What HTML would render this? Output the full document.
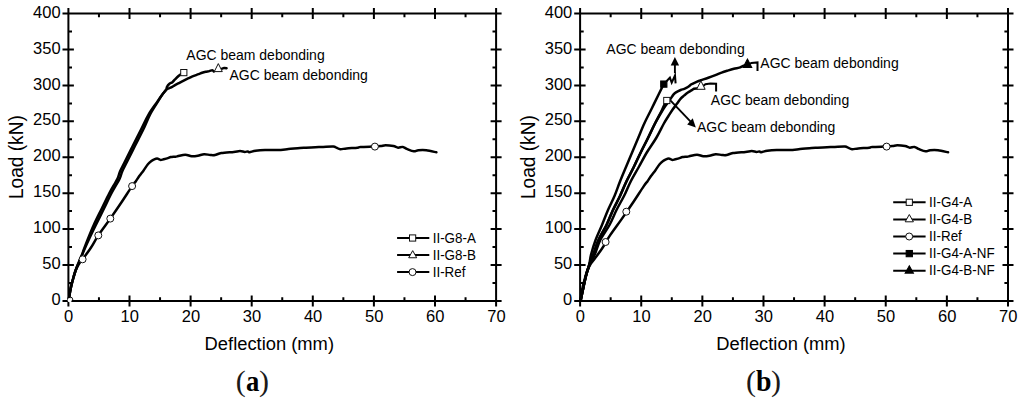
<!DOCTYPE html>
<html><head><meta charset="utf-8"><style>
html,body{margin:0;padding:0;background:#fff;}
svg{display:block;}
text{font-family:"Liberation Sans",sans-serif;fill:#000;}
.tk{font-size:16.5px;}
.ttl{font-size:18.7px;}
.ttl2{font-size:19.1px;}
.pr{font-family:"Liberation Serif",serif;font-size:30px;fill:#1a1a1a;}
.cb{font-family:"Liberation Serif",serif;font-weight:bold;font-size:29px;}
.an{font-size:14px;}
.lt{font-size:13.4px;}
.cap{font-family:"Liberation Serif",serif;font-weight:bold;font-size:28px;}
.ax{fill:none;stroke:#000;stroke-width:2;}
.cv{fill:none;stroke:#000;stroke-width:2.5;stroke-linejoin:round;stroke-linecap:round;}
.cv2{fill:none;stroke:#000;stroke-width:2;stroke-linejoin:miter;}
.lg{fill:none;stroke:#000;stroke-width:2;}
.mk{fill:#fff;stroke:#111;stroke-width:1.0;}
.mkf{fill:#000;stroke:#000;stroke-width:1.1;}
.ar{fill:none;stroke:#000;stroke-width:1.9;}
.ah{fill:#000;stroke:none;}
</style></head><body>
<svg width="1024" height="406" viewBox="0 0 1024 406">
<rect width="1024" height="406" fill="#fff"/>
<g>
<path d="M68.40,13.60H496.10V300.90H68.40ZM68.40,306.40V295.40M68.40,8.10V19.10M98.95,300.90V297.30M98.95,13.60V17.20M129.50,306.40V295.40M129.50,8.10V19.10M160.05,300.90V297.30M160.05,13.60V17.20M190.60,306.40V295.40M190.60,8.10V19.10M221.15,300.90V297.30M221.15,13.60V17.20M251.70,306.40V295.40M251.70,8.10V19.10M282.25,300.90V297.30M282.25,13.60V17.20M312.80,306.40V295.40M312.80,8.10V19.10M343.35,300.90V297.30M343.35,13.60V17.20M373.90,306.40V295.40M373.90,8.10V19.10M404.45,300.90V297.30M404.45,13.60V17.20M435.00,306.40V295.40M435.00,8.10V19.10M465.55,300.90V297.30M465.55,13.60V17.20M496.10,306.40V295.40M496.10,8.10V19.10M62.50,300.90H73.90M490.60,300.90H501.60M68.40,282.94H72.00M496.10,282.94H492.50M62.50,264.99H73.90M490.60,264.99H501.60M68.40,247.03H72.00M496.10,247.03H492.50M62.50,229.07H73.90M490.60,229.07H501.60M68.40,211.12H72.00M496.10,211.12H492.50M62.50,193.16H73.90M490.60,193.16H501.60M68.40,175.21H72.00M496.10,175.21H492.50M62.50,157.25H73.90M490.60,157.25H501.60M68.40,139.29H72.00M496.10,139.29H492.50M62.50,121.34H73.90M490.60,121.34H501.60M68.40,103.38H72.00M496.10,103.38H492.50M62.50,85.43H73.90M490.60,85.43H501.60M68.40,67.47H72.00M496.10,67.47H492.50M62.50,49.51H73.90M490.60,49.51H501.60M68.40,31.56H72.00M496.10,31.56H492.50M62.50,13.60H73.90M490.60,13.60H501.60" class="ax"/>
<path d="M68.70,300.50 C68.92,299.08 69.50,294.75 70.00,292.00 C70.50,289.25 71.10,286.50 71.70,284.00 C72.30,281.50 72.95,279.25 73.60,277.00 C74.25,274.75 74.77,272.58 75.60,270.50 C76.43,268.42 77.43,266.37 78.60,264.50 C79.77,262.63 80.58,262.05 82.60,259.30 C84.62,256.55 88.08,251.98 90.70,248.00 C93.32,244.02 95.03,240.30 98.30,235.40 C101.57,230.50 106.52,224.00 110.30,218.60 C114.08,213.20 117.37,208.42 121.00,203.00 C124.63,197.58 129.65,189.70 132.10,186.10 C134.55,182.50 134.50,183.07 135.70,181.40 C136.90,179.73 137.98,177.93 139.30,176.10 C140.62,174.27 142.17,172.37 143.60,170.40 C145.03,168.43 146.60,165.87 147.90,164.30 C149.20,162.73 150.33,161.83 151.40,161.00 C152.47,160.17 153.35,159.70 154.30,159.30 C155.25,158.90 156.27,158.60 157.10,158.60 C157.93,158.60 158.70,159.07 159.30,159.30 C159.90,159.53 159.98,160.00 160.70,160.00 C161.42,160.00 162.40,159.62 163.60,159.30 C164.80,158.98 166.72,158.47 167.90,158.10 C169.08,157.73 169.52,157.33 170.70,157.10 C171.88,156.87 173.87,156.83 175.00,156.70 C176.13,156.57 175.78,156.63 177.50,156.30 C179.22,155.97 182.95,154.70 185.30,154.70 C187.65,154.70 189.52,156.12 191.60,156.30 C193.68,156.48 195.72,156.15 197.80,155.80 C199.88,155.45 202.02,154.33 204.10,154.20 C206.18,154.07 208.48,154.87 210.30,155.00 C212.12,155.13 213.17,155.32 215.00,155.00 C216.83,154.68 218.17,153.62 221.30,153.10 C224.43,152.58 230.68,152.23 233.80,151.90 C236.92,151.57 238.18,151.10 240.00,151.10 C241.82,151.10 243.40,151.85 244.70,151.90 C246.00,151.95 247.02,151.35 247.80,151.40 C248.58,151.45 248.10,152.30 249.40,152.20 C250.70,152.10 253.00,151.17 255.60,150.80 C258.20,150.43 261.35,150.13 265.00,150.00 C268.65,149.87 273.60,150.15 277.50,150.00 C281.40,149.85 284.65,149.43 288.40,149.10 C292.15,148.77 297.08,148.23 300.00,148.00 C302.92,147.77 303.35,147.83 305.90,147.70 C308.45,147.57 312.43,147.33 315.30,147.20 C318.17,147.07 320.10,147.00 323.10,146.90 C326.10,146.80 331.08,146.47 333.30,146.60 C335.52,146.73 335.23,147.27 336.40,147.70 C337.57,148.13 338.60,149.08 340.30,149.20 C342.00,149.32 343.73,148.65 346.60,148.40 C349.47,148.15 355.17,147.95 357.50,147.70 C359.83,147.45 358.25,147.08 360.60,146.90 C362.95,146.72 369.22,146.65 371.60,146.60 C373.98,146.55 373.35,146.68 374.90,146.60 C376.45,146.52 379.12,146.32 380.90,146.10 C382.68,145.88 383.52,145.30 385.60,145.30 C387.68,145.30 391.32,145.70 393.40,146.10 C395.48,146.50 396.53,147.57 398.10,147.70 C399.67,147.83 401.23,146.65 402.80,146.90 C404.37,147.15 405.67,148.47 407.50,149.20 C409.33,149.93 411.98,151.12 413.80,151.30 C415.62,151.48 416.32,150.47 418.40,150.30 C420.48,150.13 423.30,149.97 426.30,150.30 C429.30,150.63 434.72,151.97 436.40,152.30" class="cv"/>
<path d="M68.70,300.50 C68.92,299.08 69.50,294.75 70.00,292.00 C70.50,289.25 71.10,286.50 71.70,284.00 C72.30,281.50 72.95,279.25 73.60,277.00 C74.25,274.75 74.82,272.73 75.60,270.50 C76.38,268.27 77.48,265.60 78.30,263.60 C79.12,261.60 79.84,260.10 80.50,258.50 C81.16,256.90 81.69,255.58 82.27,254.00 C82.86,252.42 83.08,251.50 84.02,249.00 C84.96,246.50 86.28,243.00 87.90,239.00 C89.53,235.00 91.45,230.08 93.76,225.00 C96.08,219.92 99.19,213.83 101.80,208.50 C104.41,203.17 106.82,197.92 109.40,193.00 C111.98,188.08 115.53,182.60 117.30,179.00 C119.07,175.40 118.77,174.23 120.00,171.40 C121.23,168.57 122.58,166.23 124.70,162.00 C126.82,157.77 129.93,151.50 132.70,146.00 C135.47,140.50 138.63,134.28 141.30,129.00 C143.97,123.72 146.07,118.78 148.69,114.30 C151.32,109.82 154.71,105.47 157.04,102.10 C159.37,98.73 161.17,96.17 162.70,94.10 C164.23,92.03 165.48,90.92 166.20,89.70 C166.92,88.48 166.45,87.78 167.00,86.80 C167.55,85.82 168.60,84.57 169.50,83.80 C170.40,83.03 171.48,82.93 172.40,82.20 C173.32,81.47 173.98,80.43 175.00,79.40 C176.02,78.37 177.45,76.92 178.50,76.00 C179.55,75.08 180.83,74.25 181.30,73.90" class="cv"/>
<path d="M68.70,300.50 C68.92,299.08 69.50,294.75 70.00,292.00 C70.50,289.25 71.10,286.50 71.70,284.00 C72.30,281.50 72.95,279.25 73.60,277.00 C74.25,274.75 74.82,272.73 75.60,270.50 C76.38,268.27 77.48,265.60 78.30,263.60 C79.12,261.60 79.80,260.10 80.50,258.50 C81.20,256.90 81.85,255.58 82.53,254.00 C83.21,252.42 83.49,251.50 84.58,249.00 C85.68,246.50 87.22,243.00 89.10,239.00 C90.97,235.00 93.35,230.08 95.84,225.00 C98.32,219.92 101.37,213.83 104.00,208.50 C106.63,203.17 109.02,197.92 111.60,193.00 C114.18,188.08 117.73,182.60 119.50,179.00 C121.27,175.40 120.97,174.23 122.20,171.40 C123.43,168.57 124.78,166.23 126.90,162.00 C129.02,157.77 132.13,151.50 134.90,146.00 C137.67,140.50 140.97,134.28 143.50,129.00 C146.03,123.72 147.76,118.78 150.11,114.30 C152.45,109.82 155.46,105.47 157.56,102.10 C159.66,98.73 161.26,96.17 162.70,94.10 C164.14,92.03 164.88,90.77 166.20,89.70 C167.52,88.63 169.13,88.45 170.60,87.70 C172.07,86.95 173.52,86.02 175.00,85.20 C176.48,84.38 178.05,83.57 179.50,82.80 C180.95,82.03 182.07,81.42 183.70,80.60 C185.33,79.78 187.83,78.60 189.30,77.90 C190.77,77.20 190.95,77.02 192.50,76.40 C194.05,75.78 197.00,74.80 198.60,74.20 C200.20,73.60 200.92,73.20 202.10,72.80 C203.28,72.40 204.50,72.08 205.70,71.80 C206.90,71.52 208.20,71.37 209.30,71.10 C210.40,70.83 211.55,70.15 212.30,70.20 C213.05,70.25 213.55,71.20 213.80,71.40" class="cv"/>
<path d="M222.10,68.60 L224.30,67.90 L226.60,68.20" class="cv"/>
<circle cx="69.7" cy="300.1" r="2.2" fill="#fff"/><path d="M69.7,296.9 A3.2,3.2 0 0 1 72.9,300.1" class="mk"/>
<circle cx="82.60" cy="259.30" r="3.5" class="mk"/>
<circle cx="98.30" cy="235.40" r="3.5" class="mk"/>
<circle cx="110.30" cy="218.60" r="3.5" class="mk"/>
<circle cx="132.10" cy="186.10" r="3.5" class="mk"/>
<circle cx="374.90" cy="146.60" r="3.5" class="mk"/>
<rect x="180.70" y="69.50" width="6.2" height="6.2" class="mk"/>
<path d="M218.30,63.60L222.30,71.60L214.30,71.60Z" class="mk"/>
<text transform="translate(186.3,59.9) scale(1,1.075)" class="an">AGC beam debonding</text>
<text transform="translate(229.5,80.4) scale(1,1.075)" class="an">AGC beam debonding</text>
<path d="M397.1,238.00H429.3" class="lg"/>
<rect x="409.50" y="234.90" width="6.2" height="6.2" class="mk"/>
<text transform="translate(432.7,242.60) scale(1,1.08)" class="lt">II-G8-A</text>
<path d="M397.1,255.05H429.3" class="lg"/>
<path d="M412.70,250.65L416.70,257.75L408.70,257.75Z" class="mk"/>
<text transform="translate(432.7,259.65) scale(1,1.08)" class="lt">II-G8-B</text>
<path d="M397.1,272.10H429.3" class="lg"/>
<circle cx="412.50" cy="272.10" r="3.5" class="mk"/>
<text transform="translate(432.7,276.70) scale(1,1.08)" class="lt">II-Ref</text>
<text x="68.70" y="322.20" text-anchor="middle" class="tk">0</text>
<text x="129.80" y="322.20" text-anchor="middle" class="tk">10</text>
<text x="190.90" y="322.20" text-anchor="middle" class="tk">20</text>
<text x="252.00" y="322.20" text-anchor="middle" class="tk">30</text>
<text x="313.10" y="322.20" text-anchor="middle" class="tk">40</text>
<text x="374.20" y="322.20" text-anchor="middle" class="tk">50</text>
<text x="435.30" y="322.20" text-anchor="middle" class="tk">60</text>
<text x="496.40" y="322.20" text-anchor="middle" class="tk">70</text>
<text x="60.60" y="305.00" text-anchor="end" class="tk">0</text>
<text x="60.60" y="269.09" text-anchor="end" class="tk">50</text>
<text x="60.60" y="233.17" text-anchor="end" class="tk">100</text>
<text x="60.60" y="197.26" text-anchor="end" class="tk">150</text>
<text x="60.60" y="161.35" text-anchor="end" class="tk">200</text>
<text x="60.60" y="125.44" text-anchor="end" class="tk">250</text>
<text x="60.60" y="89.53" text-anchor="end" class="tk">300</text>
<text x="60.60" y="53.61" text-anchor="end" class="tk">350</text>
<text x="60.60" y="17.70" text-anchor="end" class="tk">400</text>
<text x="204.6" y="350.2" class="ttl" textLength="129.4" lengthAdjust="spacingAndGlyphs">Deflection (mm)</text>
<text transform="translate(22.8,199.0) rotate(-90) scale(1,1.04)" class="ttl2">Load (kN)</text>
<text x="235.7" y="390.9" class="pr">(</text><text transform="translate(245.9,390.9) scale(0.92,1)" class="cb">a</text><text x="268.9" y="390.9" text-anchor="end" class="pr">)</text>
</g>
<g>
<path d="M580.10,13.60H1008.00V300.90H580.10ZM580.10,306.40V295.40M580.10,8.10V19.10M610.66,300.90V297.30M610.66,13.60V17.20M641.23,306.40V295.40M641.23,8.10V19.10M671.79,300.90V297.30M671.79,13.60V17.20M702.36,306.40V295.40M702.36,8.10V19.10M732.92,300.90V297.30M732.92,13.60V17.20M763.49,306.40V295.40M763.49,8.10V19.10M794.05,300.90V297.30M794.05,13.60V17.20M824.61,306.40V295.40M824.61,8.10V19.10M855.18,300.90V297.30M855.18,13.60V17.20M885.74,306.40V295.40M885.74,8.10V19.10M916.31,300.90V297.30M916.31,13.60V17.20M946.87,306.40V295.40M946.87,8.10V19.10M977.44,300.90V297.30M977.44,13.60V17.20M1008.00,306.40V295.40M1008.00,8.10V19.10M574.20,300.90H585.60M1002.50,300.90H1013.50M580.10,282.94H583.70M1008.00,282.94H1004.40M574.20,264.99H585.60M1002.50,264.99H1013.50M580.10,247.03H583.70M1008.00,247.03H1004.40M574.20,229.07H585.60M1002.50,229.07H1013.50M580.10,211.12H583.70M1008.00,211.12H1004.40M574.20,193.16H585.60M1002.50,193.16H1013.50M580.10,175.21H583.70M1008.00,175.21H1004.40M574.20,157.25H585.60M1002.50,157.25H1013.50M580.10,139.29H583.70M1008.00,139.29H1004.40M574.20,121.34H585.60M1002.50,121.34H1013.50M580.10,103.38H583.70M1008.00,103.38H1004.40M574.20,85.43H585.60M1002.50,85.43H1013.50M580.10,67.47H583.70M1008.00,67.47H1004.40M574.20,49.51H585.60M1002.50,49.51H1013.50M580.10,31.56H583.70M1008.00,31.56H1004.40M574.20,13.60H585.60M1002.50,13.60H1013.50" class="ax"/>
<path d="M580.40,300.50 C580.62,299.08 581.20,294.75 581.70,292.00 C582.20,289.25 582.80,286.50 583.40,284.00 C584.00,281.50 584.65,279.25 585.30,277.00 C585.95,274.75 586.47,272.58 587.30,270.50 C588.13,268.42 589.13,266.37 590.30,264.50 C591.47,262.63 592.28,262.05 594.30,259.30 C596.32,256.55 599.78,251.98 602.40,248.00 C605.02,244.02 606.73,240.30 610.00,235.40 C613.27,230.50 618.22,224.00 622.00,218.60 C625.78,213.20 629.07,208.42 632.70,203.00 C636.33,197.58 641.35,189.70 643.80,186.10 C646.25,182.50 646.20,183.07 647.40,181.40 C648.60,179.73 649.68,177.93 651.00,176.10 C652.32,174.27 653.87,172.37 655.30,170.40 C656.73,168.43 658.30,165.87 659.60,164.30 C660.90,162.73 662.03,161.83 663.10,161.00 C664.17,160.17 665.05,159.70 666.00,159.30 C666.95,158.90 667.97,158.60 668.80,158.60 C669.63,158.60 670.40,159.07 671.00,159.30 C671.60,159.53 671.68,160.00 672.40,160.00 C673.12,160.00 674.10,159.62 675.30,159.30 C676.50,158.98 678.42,158.47 679.60,158.10 C680.78,157.73 681.22,157.33 682.40,157.10 C683.58,156.87 685.57,156.83 686.70,156.70 C687.83,156.57 687.48,156.63 689.20,156.30 C690.92,155.97 694.65,154.70 697.00,154.70 C699.35,154.70 701.22,156.12 703.30,156.30 C705.38,156.48 707.42,156.15 709.50,155.80 C711.58,155.45 713.72,154.33 715.80,154.20 C717.88,154.07 720.18,154.87 722.00,155.00 C723.82,155.13 724.87,155.32 726.70,155.00 C728.53,154.68 729.87,153.62 733.00,153.10 C736.13,152.58 742.38,152.23 745.50,151.90 C748.62,151.57 749.88,151.10 751.70,151.10 C753.52,151.10 755.10,151.85 756.40,151.90 C757.70,151.95 758.72,151.35 759.50,151.40 C760.28,151.45 759.80,152.30 761.10,152.20 C762.40,152.10 764.70,151.17 767.30,150.80 C769.90,150.43 773.05,150.13 776.70,150.00 C780.35,149.87 785.30,150.15 789.20,150.00 C793.10,149.85 796.35,149.43 800.10,149.10 C803.85,148.77 808.78,148.23 811.70,148.00 C814.62,147.77 815.05,147.83 817.60,147.70 C820.15,147.57 824.13,147.33 827.00,147.20 C829.87,147.07 831.80,147.00 834.80,146.90 C837.80,146.80 842.78,146.47 845.00,146.60 C847.22,146.73 846.93,147.27 848.10,147.70 C849.27,148.13 850.30,149.08 852.00,149.20 C853.70,149.32 855.43,148.65 858.30,148.40 C861.17,148.15 866.87,147.95 869.20,147.70 C871.53,147.45 869.95,147.08 872.30,146.90 C874.65,146.72 880.92,146.65 883.30,146.60 C885.68,146.55 885.05,146.68 886.60,146.60 C888.15,146.52 890.82,146.32 892.60,146.10 C894.38,145.88 895.22,145.30 897.30,145.30 C899.38,145.30 903.02,145.70 905.10,146.10 C907.18,146.50 908.23,147.57 909.80,147.70 C911.37,147.83 912.93,146.65 914.50,146.90 C916.07,147.15 917.37,148.47 919.20,149.20 C921.03,149.93 923.68,151.12 925.50,151.30 C927.32,151.48 928.02,150.47 930.10,150.30 C932.18,150.13 935.00,149.97 938.00,150.30 C941.00,150.63 946.42,151.97 948.10,152.30" class="cv"/>
<path d="M580.60,300.70 C580.88,299.33 581.72,295.28 582.30,292.50 C582.88,289.72 583.52,286.67 584.10,284.00 C584.68,281.33 585.23,278.75 585.80,276.50 C586.37,274.25 587.05,272.00 587.50,270.50 C587.95,269.00 587.95,268.92 588.50,267.50 C589.05,266.08 589.72,264.25 590.80,262.00 C591.88,259.75 593.42,257.67 595.00,254.00 C596.58,250.33 597.88,244.83 600.30,240.00 C602.72,235.17 606.80,230.00 609.50,225.00 C612.20,220.00 614.08,214.83 616.50,210.00 C618.92,205.17 621.63,200.75 624.00,196.00 C626.37,191.25 628.23,186.33 630.70,181.50 C633.17,176.67 636.12,171.83 638.80,167.00 C641.48,162.17 643.90,157.33 646.80,152.50 C649.70,147.67 653.35,142.83 656.20,138.00 C659.05,133.17 661.85,127.17 663.90,123.50 C665.95,119.83 666.98,118.42 668.50,116.00 C670.02,113.58 671.57,111.07 673.00,109.00 C674.43,106.93 675.82,105.33 677.10,103.60 C678.38,101.87 679.50,99.97 680.70,98.60 C681.90,97.23 683.10,96.42 684.30,95.40 C685.50,94.38 686.72,93.33 687.90,92.50 C689.08,91.67 690.38,91.02 691.40,90.40 C692.42,89.78 693.07,89.12 694.00,88.80 C694.93,88.48 696.50,88.55 697.00,88.50" class="cv"/>
<path d="M580.60,300.70 C580.88,299.33 581.72,295.28 582.30,292.50 C582.88,289.72 583.52,286.67 584.10,284.00 C584.68,281.33 585.23,278.75 585.80,276.50 C586.37,274.25 587.05,272.00 587.50,270.50 C587.95,269.00 588.03,268.92 588.50,267.50 C588.97,266.08 589.47,264.25 590.30,262.00 C591.13,259.75 592.13,257.67 593.50,254.00 C594.87,250.33 596.33,244.83 598.50,240.00 C600.67,235.17 604.08,230.00 606.50,225.00 C608.92,220.00 610.75,214.83 613.00,210.00 C615.25,205.17 617.77,200.75 620.00,196.00 C622.23,191.25 624.10,186.33 626.40,181.50 C628.70,176.67 631.42,171.83 633.80,167.00 C636.18,162.17 638.33,157.33 640.70,152.50 C643.07,147.67 645.62,142.83 648.00,138.00 C650.38,133.17 652.75,128.00 655.00,123.50 C657.25,119.00 659.92,114.17 661.50,111.00 C663.08,107.83 663.75,106.00 664.50,104.50 C665.25,103.00 665.75,102.42 666.00,102.00" class="cv"/>
<path d="M580.60,300.70 C580.88,299.33 581.72,295.28 582.30,292.50 C582.88,289.72 583.52,286.67 584.10,284.00 C584.68,281.33 585.23,278.75 585.80,276.50 C586.37,274.25 587.05,272.00 587.50,270.50 C587.95,269.00 588.03,268.92 588.50,267.50 C588.97,266.08 589.47,264.25 590.30,262.00 C591.13,259.75 592.13,257.67 593.50,254.00 C594.87,250.33 596.33,244.83 598.50,240.00 C600.67,235.17 604.08,230.00 606.50,225.00 C608.92,220.00 610.75,214.83 613.00,210.00 C615.25,205.17 617.77,200.75 620.00,196.00 C622.23,191.25 624.10,186.33 626.40,181.50 C628.70,176.67 631.42,171.83 633.80,167.00 C636.18,162.17 638.33,157.33 640.70,152.50 C643.07,147.67 645.62,142.83 648.00,138.00 C650.38,133.17 652.45,128.33 655.00,123.50 C657.55,118.67 661.22,112.42 663.30,109.00 C665.38,105.58 666.27,104.73 667.50,103.00 C668.73,101.27 669.68,100.05 670.70,98.60 C671.72,97.15 672.65,95.38 673.60,94.30 C674.55,93.22 675.22,92.82 676.40,92.10 C677.58,91.38 679.38,90.55 680.70,90.00 C682.02,89.45 683.10,89.30 684.30,88.80 C685.50,88.30 686.72,87.75 687.90,87.00 C689.08,86.25 690.22,85.03 691.40,84.30 C692.58,83.57 693.80,83.15 695.00,82.60 C696.20,82.05 697.58,81.42 698.60,81.00 C699.62,80.58 699.48,80.63 701.10,80.10 C702.72,79.57 705.92,78.62 708.30,77.80 C710.68,76.98 713.18,76.07 715.40,75.20 C717.62,74.33 719.55,73.37 721.60,72.60 C723.65,71.83 725.65,71.23 727.70,70.60 C729.75,69.97 731.97,69.30 733.90,68.80 C735.83,68.30 737.93,68.00 739.30,67.60 C740.67,67.20 741.15,66.78 742.10,66.40 C743.05,66.02 744.52,65.48 745.00,65.30" class="cv"/>
<path d="M580.60,300.70 C580.88,299.33 581.72,295.28 582.30,292.50 C582.88,289.72 583.52,286.67 584.10,284.00 C584.68,281.33 585.23,278.75 585.80,276.50 C586.37,274.25 587.05,272.00 587.50,270.50 C587.95,269.00 588.13,268.92 588.50,267.50 C588.87,266.08 589.25,264.25 589.70,262.00 C590.15,259.75 590.22,257.67 591.20,254.00 C592.18,250.33 593.80,244.83 595.60,240.00 C597.40,235.17 599.93,230.00 602.00,225.00 C604.07,220.00 605.92,214.83 608.00,210.00 C610.08,205.17 612.50,200.75 614.50,196.00 C616.50,191.25 618.08,186.33 620.00,181.50 C621.92,176.67 623.98,171.83 626.00,167.00 C628.02,162.17 630.07,157.33 632.10,152.50 C634.13,147.67 636.17,142.83 638.20,138.00 C640.23,133.17 642.08,128.33 644.30,123.50 C646.52,118.67 649.12,113.83 651.50,109.00 C653.88,104.17 656.80,98.17 658.60,94.50 C660.40,90.83 661.68,88.25 662.30,87.00" class="cv"/>
<path d="M666.30,81.50 L669.90,77.60 L671.70,82.60 L675.00,75.50 L675.60,83.30" class="cv2"/>
<path d="M749.3,63.9 L751.4,63.1 L757.5,62.4 V70.9" class="cv2"/>
<path d="M703.3,85.9 L705.4,84.3 L710.4,83.6 L716.1,83.7 V91.4" class="cv2"/>
<path d="M674.9,73.2 V64" class="ar"/><path d="M674.9,57.0 L679.1,65.6 L670.7,65.6Z" class="ah"/>
<path d="M670.6,100.6 L690.6,121.6" class="ar"/><path d="M695.8,127.5 L687.2,124.6 L692.7,118.2Z" class="ah"/>
<circle cx="605.60" cy="242.00" r="3.5" class="mk"/>
<circle cx="626.30" cy="211.70" r="3.5" class="mk"/>
<circle cx="886.60" cy="146.60" r="3.5" class="mk"/>
<rect x="663.70" y="97.40" width="6.2" height="6.2" class="mk"/>
<rect x="660.70" y="81.00" width="6.2" height="6.2" class="mkf"/>
<path d="M700.90,80.90L705.15,89.30L696.65,89.30Z" class="mk"/>
<path d="M747.40,59.10L751.70,67.40L743.10,67.40Z" class="mkf"/>
<text transform="translate(606.3,53.8) scale(1,1.075)" class="an">AGC beam debonding</text>
<text transform="translate(760.3,68.2) scale(1,1.075)" class="an">AGC beam debonding</text>
<text transform="translate(710.8,105.4) scale(1,1.075)" class="an">AGC beam debonding</text>
<text transform="translate(697.0,131.6) scale(1,1.075)" class="an">AGC beam debonding</text>
<path d="M893.2,202.30H925.6" class="lg"/>
<rect x="906.20" y="199.20" width="6.2" height="6.2" class="mk"/>
<text transform="translate(929.1,206.90) scale(1,1.08)" class="lt">II-G4-A</text>
<path d="M893.2,219.40H925.6" class="lg"/>
<path d="M909.30,214.50L913.40,221.80L905.20,221.80Z" class="mk"/>
<text transform="translate(929.1,224.00) scale(1,1.08)" class="lt">II-G4-B</text>
<path d="M893.2,236.50H925.6" class="lg"/>
<circle cx="909.20" cy="236.50" r="3.5" class="mk"/>
<text transform="translate(929.1,241.10) scale(1,1.08)" class="lt">II-Ref</text>
<path d="M893.2,253.60H925.6" class="lg"/>
<rect x="906.20" y="250.50" width="6.2" height="6.2" class="mkf"/>
<text transform="translate(929.1,258.20) scale(1,1.08)" class="lt">II-G4-A-NF</text>
<path d="M893.2,270.70H925.6" class="lg"/>
<path d="M909.30,265.80L913.40,273.10L905.20,273.10Z" class="mkf"/>
<text transform="translate(929.1,275.30) scale(1,1.08)" class="lt">II-G4-B-NF</text>
<text x="580.40" y="322.20" text-anchor="middle" class="tk">0</text>
<text x="641.53" y="322.20" text-anchor="middle" class="tk">10</text>
<text x="702.66" y="322.20" text-anchor="middle" class="tk">20</text>
<text x="763.79" y="322.20" text-anchor="middle" class="tk">30</text>
<text x="824.91" y="322.20" text-anchor="middle" class="tk">40</text>
<text x="886.04" y="322.20" text-anchor="middle" class="tk">50</text>
<text x="947.17" y="322.20" text-anchor="middle" class="tk">60</text>
<text x="1008.30" y="322.20" text-anchor="middle" class="tk">70</text>
<text x="572.30" y="305.00" text-anchor="end" class="tk">0</text>
<text x="572.30" y="269.09" text-anchor="end" class="tk">50</text>
<text x="572.30" y="233.17" text-anchor="end" class="tk">100</text>
<text x="572.30" y="197.26" text-anchor="end" class="tk">150</text>
<text x="572.30" y="161.35" text-anchor="end" class="tk">200</text>
<text x="572.30" y="125.44" text-anchor="end" class="tk">250</text>
<text x="572.30" y="89.53" text-anchor="end" class="tk">300</text>
<text x="572.30" y="53.61" text-anchor="end" class="tk">350</text>
<text x="572.30" y="17.70" text-anchor="end" class="tk">400</text>
<text x="716.3" y="350.2" class="ttl" textLength="129.4" lengthAdjust="spacingAndGlyphs">Deflection (mm)</text>
<text transform="translate(534.5,199.0) rotate(-90) scale(1,1.04)" class="ttl2">Load (kN)</text>
<text x="746.0" y="390.9" class="pr">(</text><text transform="translate(756.1,391.1) scale(0.96,1)" class="cb">b</text><text x="780.9" y="390.9" text-anchor="end" class="pr">)</text>
</g>
</svg>
</body></html>
